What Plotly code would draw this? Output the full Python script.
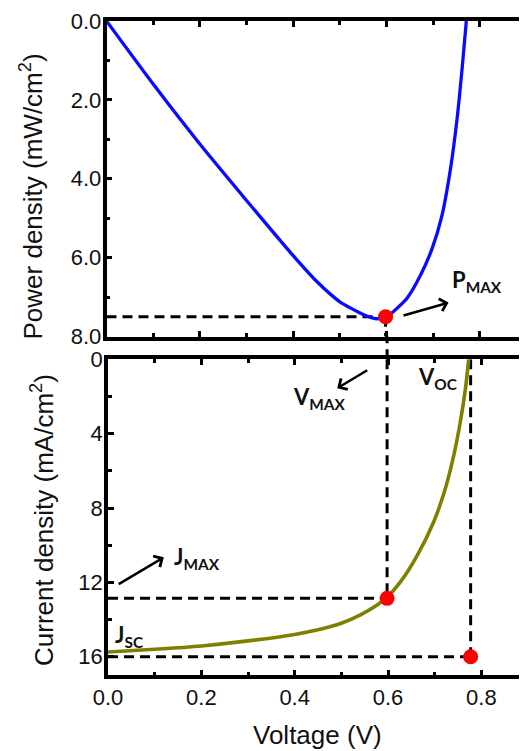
import plotly.graph_objects as go

# ---------------- data ----------------
voltage_p = [0, 0.1, 0.2, 0.3, 0.4, 0.45, 0.5, 0.55, 0.578, 0.601, 0.623,
             0.644, 0.673, 0.698, 0.719, 0.737, 0.751, 0.762, 0.771]
power = [0, 1.6, 3.12, 4.55, 5.95, 6.6, 7.12, 7.44, 7.55, 7.5, 7.28,
         7.03, 6.44, 5.76, 4.92, 3.75, 2.5, 1.2, 0]

voltage_j = [0, 0.1, 0.2, 0.3, 0.4, 0.45, 0.5, 0.541, 0.575, 0.598, 0.627,
             0.663, 0.698, 0.723, 0.741, 0.755, 0.766, 0.773]
current = [15.75, 15.6, 15.42, 15.15, 14.8, 14.55, 14.2, 13.75, 13.25, 12.8,
           11.96, 10.53, 8.74, 6.94, 5.15, 3.36, 1.56, 0.0]

v_max = 0.598
p_max = 7.5
j_max = 12.86
v_oc = 0.777
j_sc = 16.0

x_ticks = [0.0, 0.2, 0.4, 0.6, 0.8]
p_ticks = [0, 2, 4, 6, 8]
j_ticks = [0, 4, 8, 12, 16]

# ---------------- layout constants ----------------
W_REF, H_REF = 527, 751
OFF = 8                              # page body margin
W, H = W_REF - OFF, H_REF - OFF
TOP_Y0, TOP_Y1 = 21, 336.5           # screen rows of top panel
BOT_Y0, BOT_Y1 = 359.3, 675.3        # screen rows of bottom panel
TOP_L, BOT_L = 106.5, 108.0          # screen columns of left spines
PX_PER_V = 466.7

def fx(px):
    return (px - OFF) / W

def fy(py):
    return 1 - (py - OFF) / H

AXF = dict(family="Liberation Sans, Arial", size=22, color="#111")
TITLEF = dict(family="Liberation Sans, Arial", size=26, color="#111")
LBLF = dict(family="Lato, Open Sans", size=22, color="#111")
DASH = dict(color="black", width=3, dash="10px,6px")

fig = go.Figure()

# top panel: power density
fig.add_trace(go.Scatter(x=[0, v_max], y=[p_max, p_max], mode="lines",
                         line=DASH, xaxis="x", yaxis="y", hoverinfo="skip"))
fig.add_trace(go.Scatter(x=[v_max, v_max], y=[p_max, 8], mode="lines",
                         line=DASH, xaxis="x", yaxis="y", hoverinfo="skip"))
fig.add_trace(go.Scatter(x=voltage_p, y=power, mode="lines",
                         line=dict(color="#0a0aff", width=3.3, shape="spline", smoothing=0.6),
                         xaxis="x", yaxis="y"))
fig.add_trace(go.Scatter(x=[v_max], y=[p_max], mode="markers",
                         marker=dict(color="#ff0000", size=15),
                         xaxis="x", yaxis="y"))

# bottom panel: current density
fig.add_trace(go.Scatter(x=[0, v_max], y=[j_max, j_max], mode="lines",
                         line=DASH, xaxis="x2", yaxis="y2", hoverinfo="skip"))
fig.add_trace(go.Scatter(x=[v_max, v_max], y=[0, j_max], mode="lines",
                         line=DASH, xaxis="x2", yaxis="y2", hoverinfo="skip"))
fig.add_trace(go.Scatter(x=[0, v_oc], y=[j_sc, j_sc], mode="lines",
                         line=DASH, xaxis="x2", yaxis="y2", hoverinfo="skip"))
fig.add_trace(go.Scatter(x=[v_oc, v_oc], y=[0, j_sc], mode="lines",
                         line=DASH, xaxis="x2", yaxis="y2", hoverinfo="skip"))
fig.add_trace(go.Scatter(x=voltage_j, y=current, mode="lines",
                         line=dict(color="#808000", width=3.6, shape="spline", smoothing=0.6),
                         xaxis="x2", yaxis="y2"))
fig.add_trace(go.Scatter(x=[v_max, v_oc], y=[j_max, j_sc], mode="markers",
                         marker=dict(color="#ff0000", size=15),
                         xaxis="x2", yaxis="y2"))

# dashed link between the panels (between the two panel domains)
fig.add_shape(type="line", xref="x2", yref="paper",
              x0=v_max, x1=v_max, y0=fy(BOT_Y0), y1=fy(TOP_Y1),
              line=DASH)

common_x = dict(showline=True, linecolor="black", linewidth=3.5, mirror="ticks",
                ticks="inside", ticklen=6, tickwidth=2.5, tickcolor="black",
                tickvals=x_ticks, tickformat=".1f", showgrid=False, zeroline=False,
                automargin=False,
                minor=dict(dtick=0.1, ticklen=4, tickwidth=2.5, tickcolor="black", ticks="inside"),
                tickfont=AXF)
common_y = dict(showline=True, linecolor="black", linewidth=3.5, mirror=False,
                ticks="inside", ticklen=6, tickwidth=2.5, tickcolor="black",
                automargin=False, ticklabelstandoff=-3,
                showgrid=False, zeroline=False, tickfont=AXF)
right_y = dict(showline=False, showgrid=False, zeroline=False, showticklabels=False,
               automargin=False,
               ticks="inside", ticklen=6, tickwidth=2.5, tickcolor="black")

fig.update_layout(
    template="none",
    width=W, height=H,
    margin=dict(l=0, r=0, t=0, b=0, pad=0),
    paper_bgcolor="white", plot_bgcolor="white",
    showlegend=False,
    xaxis=dict(domain=[fx(TOP_L), 1], range=[0, (W_REF - TOP_L) / PX_PER_V], anchor="y",
               showticklabels=False, **common_x),
    yaxis=dict(domain=[fy(TOP_Y1), fy(TOP_Y0)], range=[8, 0], anchor="x",
               tickvals=p_ticks, tickformat=".1f",
               minor=dict(dtick=1, ticklen=4, tickwidth=2.5, tickcolor="black", ticks="inside"),
               **common_y),
    yaxis3=dict(overlaying="y", side="right", anchor="x", range=[8, 0],
                dtick=1, tick0=0, **right_y),
    xaxis2=dict(domain=[fx(BOT_L), 1], range=[0, (W_REF - BOT_L) / PX_PER_V], anchor="y2",
                showticklabels=True, **common_x),
    yaxis2=dict(domain=[fy(BOT_Y1), fy(BOT_Y0)], range=[17, 0], anchor="x2",
                tickvals=j_ticks,
                minor=dict(dtick=2, ticklen=4, tickwidth=2.5, tickcolor="black", ticks="inside"),
                **common_y),
    yaxis4=dict(overlaying="y2", side="right", anchor="x2", range=[17, 0],
                tickvals=j_ticks, **right_y),
)

# axis titles
fig.add_annotation(text="Voltage (V)", xref="paper", yref="paper",
                   x=fx(317.5), y=fy(735), showarrow=False, font=TITLEF,
                   xanchor="center", yanchor="middle")
fig.add_annotation(text="Power density (mW/cm<sup>2</sup>)", xref="paper", yref="paper",
                   x=fx(32), y=fy(196.5), showarrow=False, font=TITLEF, textangle=-90,
                   xanchor="center", yanchor="middle")
fig.add_annotation(text="Current density (mA/cm<sup>2</sup>)", xref="paper", yref="paper",
                   x=fx(42), y=fy(520), showarrow=False, font=TITLEF, textangle=-90,
                   xanchor="center", yanchor="middle")

# point labels
fig.add_annotation(text="<b>P<sub>MAX</sub></b>", xref="x", yref="y", x=0.737, y=6.6,
                   showarrow=False, font=LBLF, xanchor="left", yanchor="middle")
fig.add_annotation(text="<b>V<sub>MAX</sub></b>", xref="x2", yref="y2", x=0.392, y=2.1,
                   showarrow=False, font=LBLF, xanchor="left", yanchor="middle")
fig.add_annotation(text="<b>V<sub>OC</sub></b>", xref="x2", yref="y2", x=0.661, y=1.0,
                   showarrow=False, font=LBLF, xanchor="left", yanchor="middle")
fig.add_annotation(text="<b>J<sub>MAX</sub></b>", xref="x2", yref="y2", x=0.138, y=10.7,
                   showarrow=False, font=LBLF, xanchor="left", yanchor="middle")
fig.add_annotation(text="<b>J<sub>SC</sub></b>", xref="x2", yref="y2", x=0.01, y=14.9,
                   showarrow=False, font=LBLF, xanchor="left", yanchor="middle")

# arrows
ARW = dict(showarrow=True, arrowhead=4, arrowsize=1, arrowwidth=2.5, arrowcolor="black", text="")
fig.add_annotation(xref="x", yref="y", x=0.733, y=7.14, ax=-46.6, ay=13.3, **ARW)
fig.add_annotation(xref="x2", yref="y2", x=0.491, y=1.56, ax=31.6, ay=-19, **ARW)
fig.add_annotation(xref="x2", yref="y2", x=0.1196, y=10.65, ax=-46.6, ay=27.7, **ARW)

fig.write_html("out.html")
